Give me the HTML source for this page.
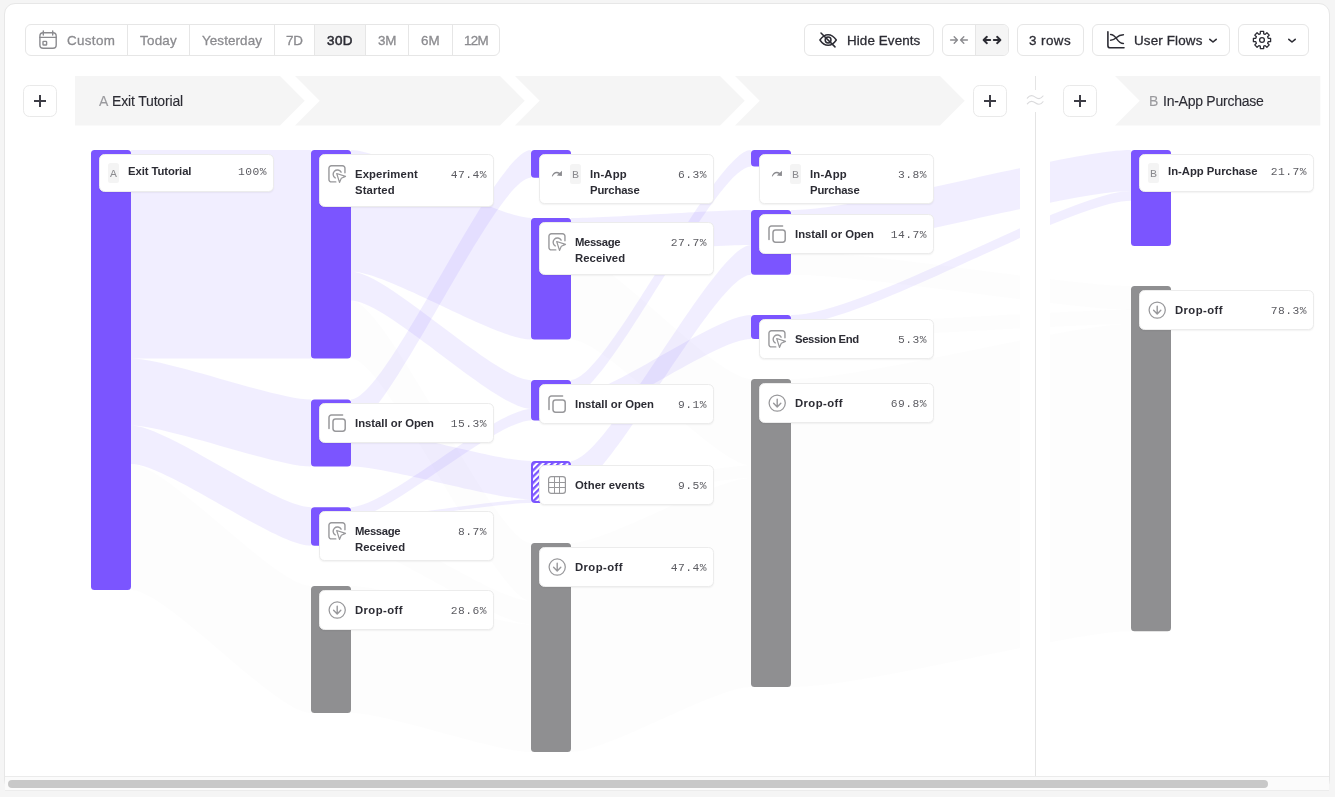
<!DOCTYPE html>
<html lang="en"><head><meta charset="utf-8"><title>User Flows</title>
<style>
html,body{margin:0;padding:0}
body{width:1335px;height:797px;background:#f5f5f5;position:relative;overflow:hidden;font-family:"Liberation Sans", sans-serif;-webkit-font-smoothing:antialiased}
.abs{position:absolute}
.t{position:absolute;white-space:nowrap;line-height:1;will-change:transform;-webkit-text-stroke:0.3px currentColor}
.btn{position:absolute;box-sizing:border-box;border:1px solid #e6e6e6;border-radius:6px;background:#fff}
.card{position:absolute;box-sizing:border-box;border:1px solid #ececec;border-radius:5.5px;background:#fff;box-shadow:0 1px 1.5px rgba(0,0,0,0.05)}
.lb{position:absolute;will-change:transform;white-space:nowrap;font-weight:700;font-size:11.3px;line-height:16.3px;color:#2c2c34}
.pc{position:absolute;will-change:transform;white-space:nowrap;font-family:"Liberation Mono", monospace;font-size:11.3px;letter-spacing:0.45px;line-height:1;color:#5c5c62;text-align:right}
.bl{position:absolute;will-change:transform;font-family:"Liberation Mono", monospace;font-size:11.5px;line-height:1;color:#8b8b8f}
</style></head>
<body>
<div class="abs" style="left:4px;top:3px;width:1326px;height:788px;box-sizing:border-box;border:1px solid #e7e7e7;border-radius:11px;background:#fff"></div>
<div class="btn" style="left:25px;top:24px;width:475px;height:32px"></div>
<div class="abs" style="left:315px;top:25px;width:50.5px;height:30px;background:#f5f5f5"></div>
<div class="abs" style="left:127.0px;top:25px;width:1px;height:30px;background:#e6e6e6"></div>
<div class="abs" style="left:189.0px;top:25px;width:1px;height:30px;background:#e6e6e6"></div>
<div class="abs" style="left:274.0px;top:25px;width:1px;height:30px;background:#e6e6e6"></div>
<div class="abs" style="left:314.0px;top:25px;width:1px;height:30px;background:#e6e6e6"></div>
<div class="abs" style="left:365.0px;top:25px;width:1px;height:30px;background:#e6e6e6"></div>
<div class="abs" style="left:408.0px;top:25px;width:1px;height:30px;background:#e6e6e6"></div>
<div class="abs" style="left:452.0px;top:25px;width:1px;height:30px;background:#e6e6e6"></div>
<div class="btn" style="left:804px;top:24px;width:129.6px;height:32px"></div>
<div class="btn" style="left:942px;top:24px;width:67px;height:32px;overflow:hidden"><div class="abs" style="left:32.5px;top:0;width:33px;height:30px;background:#f5f5f5"></div><div class="abs" style="left:32px;top:0;width:1px;height:30px;background:#e6e6e6"></div></div>
<div class="btn" style="left:1017.2px;top:24px;width:66.5px;height:32px"></div>
<div class="btn" style="left:1092.3px;top:24px;width:137.6px;height:32px"></div>
<div class="btn" style="left:1238.3px;top:24px;width:70.4px;height:32px"></div>
<svg class="abs" style="left:0;top:0" width="1335" height="140" viewBox="0 0 1335 140">
<g fill="none" stroke="#8b8b8f" stroke-width="1.4" stroke-linecap="round"><rect x="39.9" y="32.7" width="16.3" height="15.6" rx="3.2"/><path d="M39.9,37.4 H56.2 M43.3,31 V35 M52.7,31 V35"/><rect x="43" y="41.4" width="3.6" height="3.6" rx="0.6"/></g>
<g fill="none" stroke="#2c2c34" stroke-width="1.5" stroke-linecap="round" stroke-linejoin="round"><path d="M819.9,40 C822.5,36.2 825.3,34.7 828.1,34.7 C830.9,34.7 833.7,36.2 836.3,40 C833.7,43.8 830.9,45.3 828.1,45.3 C825.3,45.3 822.5,43.8 819.9,40 Z"/><circle cx="828.1" cy="40" r="2.9"/><path d="M821,33 L835,46.9"/></g>
<g fill="none" stroke="#8b8b8f" stroke-width="1.4" stroke-linecap="round" stroke-linejoin="round"><path d="M950.6,40 H957 M954.2,36.8 L957.4,40 L954.2,43.2"/><path d="M967.4,40 H961 M963.8,36.8 L960.6,40 L963.8,43.2"/></g>
<g fill="none" stroke="#2c2c34" stroke-width="1.9" stroke-linecap="round" stroke-linejoin="round"><path d="M990.2,40 H984 M986.9,36.8 L983.6,40 L986.9,43.2"/><path d="M993.8,40 H1000 M997.1,36.8 L1000.4,40 L997.1,43.2"/></g>
<g fill="none" stroke="#2c2c34" stroke-width="1.6" stroke-linecap="round" stroke-linejoin="round"><path d="M1107.9,31.8 V45.4 A2.4,2.4 0 0 0 1110.3,47.8 H1124"/><path d="M1110.6,34.5 C1117,34.5 1116.5,43.6 1123.4,43.6" stroke-width="1.5"/><path d="M1110.6,40.3 C1116.5,40.3 1116,34.8 1123.4,34.8" stroke-width="1.5"/></g>
<path d="M1209.8,39.3 L1213,42 L1216.2,39.3" fill="none" stroke="#2c2c34" stroke-width="1.6" stroke-linecap="round" stroke-linejoin="round"/>
<path d="M1260.28,33.78 L1260.35,31.41 L1263.65,31.41 L1263.72,33.78 L1265.18,34.39 L1266.91,32.76 L1269.24,35.09 L1267.61,36.82 L1268.22,38.28 L1270.59,38.35 L1270.59,41.65 L1268.22,41.72 L1267.61,43.18 L1269.24,44.91 L1266.91,47.24 L1265.18,45.61 L1263.72,46.22 L1263.65,48.59 L1260.35,48.59 L1260.28,46.22 L1258.82,45.61 L1257.09,47.24 L1254.76,44.91 L1256.39,43.18 L1255.78,41.72 L1253.41,41.65 L1253.41,38.35 L1255.78,38.28 L1256.39,36.82 L1254.76,35.09 L1257.09,32.76 L1258.82,34.39 Z" fill="none" stroke="#2c2c34" stroke-width="1.3" stroke-linejoin="round"/><circle cx="1262.0" cy="40.0" r="2.4" fill="none" stroke="#2c2c34" stroke-width="1.3"/>
<path d="M1288.8,39.3 L1292,42 L1295.2,39.3" fill="none" stroke="#2c2c34" stroke-width="1.6" stroke-linecap="round" stroke-linejoin="round"/>
<polygon points="75,76 280,76 304.7,100.7 280,125.4 75,125.4" fill="#f5f5f5"/>
<polygon points="295,76 500,76 524.7,100.7 500,125.4 295,125.4 319.7,100.7" fill="#f5f5f5"/>
<polygon points="515,76 720,76 744.7,100.7 720,125.4 515,125.4 539.7,100.7" fill="#f5f5f5"/>
<polygon points="735,76 940,76 964.7,100.7 940,125.4 735,125.4 759.7,100.7" fill="#f5f5f5"/>
<polygon points="1115,76 1320.3,76 1320.3,125.4 1115,125.4 1139.7,100.7" fill="#f5f5f5"/>
<g fill="none" stroke="#dadadc" stroke-width="1.1" stroke-linecap="round"><path d="M1027.3,98.2 C1030,94.6 1032.6,95.2 1035.2,97.1 C1037.8,99 1040.4,99.6 1043,96"/><path d="M1027.3,103.9 C1030,100.3 1032.6,100.9 1035.2,102.8 C1037.8,104.7 1040.4,105.3 1043,101.7"/></g>
</svg>
<div class="btn" style="left:23px;top:85px;width:34px;height:32px;border-radius:6.5px;border-color:#e9e9e9"><div class="abs" style="left:10.2px;top:14.2px;width:11.6px;height:1.6px;background:#3d3d45"></div><div class="abs" style="left:15.2px;top:9.2px;width:1.6px;height:11.6px;background:#3d3d45"></div></div>
<div class="btn" style="left:973px;top:85px;width:34px;height:32px;border-radius:6.5px;border-color:#e9e9e9"><div class="abs" style="left:10.2px;top:14.2px;width:11.6px;height:1.6px;background:#3d3d45"></div><div class="abs" style="left:15.2px;top:9.2px;width:1.6px;height:11.6px;background:#3d3d45"></div></div>
<div class="btn" style="left:1063px;top:85px;width:34px;height:32px;border-radius:6.5px;border-color:#e9e9e9"><div class="abs" style="left:10.2px;top:14.2px;width:11.6px;height:1.6px;background:#3d3d45"></div><div class="abs" style="left:15.2px;top:9.2px;width:1.6px;height:11.6px;background:#3d3d45"></div></div>
<div class="abs" style="left:1034.8px;top:76px;width:1px;height:14px;background:#e4e4e4"></div>
<div class="abs" style="left:1034.8px;top:112px;width:1px;height:664px;background:#e4e4e4"></div>
<svg class="abs" style="left:0;top:140px" width="1335" height="636" viewBox="0 140 1335 636">
<defs><pattern id="hatch" width="4.4" height="4.4" patternUnits="userSpaceOnUse" patternTransform="rotate(-45)"><rect x="0" y="0" width="4.4" height="2.3" fill="#7b55ff"/></pattern><clipPath id="fc"><rect x="0" y="140" width="1020" height="640"/><rect x="1050" y="140" width="285" height="640"/></clipPath></defs>
<g clip-path="url(#fc)">
<path d="M131,150 C167.0,150 275.0,150 311,150 L311,358.4 C275.0,358.4 167.0,358.4 131,358.4 Z" fill="#7856ff" fill-opacity="0.1"/>
<path d="M131,358.4 C167.0,358.4 275.0,399.4 311,399.4 L311,466.4 C275.0,466.4 167.0,425.4 131,425.4 Z" fill="#7856ff" fill-opacity="0.1"/>
<path d="M131,425.4 C167.0,425.4 275.0,507.2 311,507.2 L311,545.7 C275.0,545.7 167.0,463.9 131,463.9 Z" fill="#7856ff" fill-opacity="0.1"/>
<path d="M131,463.9 C167.0,463.9 275.0,586 311,586 L311,713 C275.0,713 167.0,590 131,590 Z" fill="#6e6e73" fill-opacity="0.014"/>
<path d="M351,150 C387.0,150 495.0,218 531,218 L531,339.6 C495.0,339.6 387.0,271.6 351,271.6 Z" fill="#7856ff" fill-opacity="0.1"/>
<path d="M351,271.6 C387.0,271.6 495.0,380 531,380 L531,408.9 C495.0,408.9 387.0,300.5 351,300.5 Z" fill="#7856ff" fill-opacity="0.1"/>
<path d="M351,300.5 C387.0,300.5 495.0,543 531,543 L531,601 C495.0,601 387.0,358.4 351,358.4 Z" fill="#6e6e73" fill-opacity="0.014"/>
<path d="M351,399.4 C387.0,399.4 495.0,150 531,150 L531,177.8 C495.0,177.8 387.0,427.2 351,427.2 Z" fill="#7856ff" fill-opacity="0.1"/>
<path d="M351,427.2 C387.0,427.2 495.0,461 531,461 L531,499.5 C495.0,499.5 387.0,466.4 351,466.4 Z" fill="#7856ff" fill-opacity="0.1"/>
<path d="M351,507.2 C387.0,507.2 495.0,408.9 531,408.9 L531,420.4 C495.0,420.4 387.0,518.7 351,518.7 Z" fill="#7856ff" fill-opacity="0.1"/>
<path d="M351,518.7 C387.0,518.7 495.0,499.5 531,499.5 L531,503 C495.0,503 387.0,522.2 351,522.2 Z" fill="#7856ff" fill-opacity="0.1"/>
<path d="M351,522.2 C387.0,522.2 495.0,601 531,601 L531,624.5 C495.0,624.5 387.0,545.7 351,545.7 Z" fill="#6e6e73" fill-opacity="0.014"/>
<path d="M351,586 C387.0,586 495.0,624.5 531,624.5 L531,752 C495.0,752 387.0,713 351,713 Z" fill="#6e6e73" fill-opacity="0.014"/>
<path d="M571,218 C607.0,218 715.0,210 751,210 L751,245 C715.0,245 607.0,253 571,253 Z" fill="#7856ff" fill-opacity="0.1"/>
<path d="M571,253 C607.0,253 715.0,379 751,379 L751,465.6 C715.0,465.6 607.0,339.6 571,339.6 Z" fill="#6e6e73" fill-opacity="0.014"/>
<path d="M571,380 C607.0,380 715.0,150 751,150 L751,166.6 C715.0,166.6 607.0,396.6 571,396.6 Z" fill="#7856ff" fill-opacity="0.1"/>
<path d="M571,396.6 C607.0,396.6 715.0,315 751,315 L751,339 C715.0,339 607.0,420.4 571,420.4 Z" fill="#7856ff" fill-opacity="0.1"/>
<path d="M571,461 C607.0,461 715.0,245 751,245 L751,274.7 C715.0,274.7 607.0,490.7 571,490.7 Z" fill="#7856ff" fill-opacity="0.1"/>
<path d="M571,490.7 C607.0,490.7 715.0,465.6 751,465.6 L751,478 C715.0,478 607.0,503 571,503 Z" fill="#6e6e73" fill-opacity="0.014"/>
<path d="M571,543 C607.0,543 715.0,478 751,478 L751,687 C715.0,687 607.0,752 571,752 Z" fill="#6e6e73" fill-opacity="0.014"/>
<path d="M791,210 C865.0,210 1069.0,150 1131,150 L1131,191 C1069.0,191 865.0,251 791,251 Z" fill="#7856ff" fill-opacity="0.1"/>
<path d="M791,315 C865.0,315 1069.0,191 1131,191 L1131,200.7 C1069.0,200.7 865.0,324.7 791,324.7 Z" fill="#7856ff" fill-opacity="0.1"/>
<path d="M791,251 C865.0,251 1069.0,286 1131,286 L1131,309.7 C1069.0,309.7 865.0,274.7 791,274.7 Z" fill="#6e6e73" fill-opacity="0.014"/>
<path d="M791,324.7 C865.0,324.7 1069.0,309.7 1131,309.7 L1131,324 C1069.0,324 865.0,339 791,339 Z" fill="#6e6e73" fill-opacity="0.014"/>
<path d="M791,379 C865.0,379 1069.0,324 1131,324 L1131,631.2 C1069.0,631.2 865.0,687 791,687 Z" fill="#6e6e73" fill-opacity="0.014"/>
</g>
<rect x="91" y="150" width="40" height="440" rx="3.5" fill="#7b55ff"/>
<rect x="311" y="150" width="40" height="208.39999999999998" rx="3.5" fill="#7b55ff"/>
<rect x="311" y="399.4" width="40" height="67.0" rx="3.5" fill="#7b55ff"/>
<rect x="311" y="507.2" width="40" height="38.50000000000006" rx="3.5" fill="#7b55ff"/>
<rect x="311" y="586" width="40" height="127" rx="3.5" fill="#8f8f91"/>
<rect x="531" y="150" width="40" height="27.80000000000001" rx="3.5" fill="#7b55ff"/>
<rect x="531" y="218" width="40" height="121.60000000000002" rx="3.5" fill="#7b55ff"/>
<rect x="531" y="380" width="40" height="40.39999999999998" rx="3.5" fill="#7b55ff"/>
<rect x="531" y="461" width="40" height="42" rx="4" fill="#fff"/><rect x="532" y="462" width="38" height="40" rx="3" fill="url(#hatch)" stroke="#7b55ff" stroke-width="2"/>
<rect x="531" y="543" width="40" height="209" rx="3.5" fill="#8f8f91"/>
<rect x="751" y="150" width="40" height="16.599999999999994" rx="3.5" fill="#7b55ff"/>
<rect x="751" y="210" width="40" height="64.69999999999999" rx="3.5" fill="#7b55ff"/>
<rect x="751" y="315" width="40" height="24" rx="3.5" fill="#7b55ff"/>
<rect x="751" y="379" width="40" height="308" rx="3.5" fill="#8f8f91"/>
<rect x="1131" y="150" width="40" height="96" rx="3.5" fill="#7b55ff"/>
<rect x="1131" y="286" width="40" height="345.20000000000005" rx="3.5" fill="#8f8f91"/>
</svg>
<div class="card" style="left:99px;top:154px;width:175px;height:38px"></div>
<div class="lb" style="left:127.8px;top:163.1px;letter-spacing:-0.081px">Exit Tutorial</div>
<div class="pc" style="left:206.8px;width:60px;top:167.4px">100%</div>
<div style="position:absolute;left:108px;top:163.2px;width:11px;height:19.5px;background:#f4f4f4;border-radius:2.5px"></div><div class="bl" style="left:110.1px;top:167.8px">A</div>
<div class="card" style="left:319px;top:154px;width:175px;height:53px"></div>
<div class="lb" style="left:354.8px;top:166.3px;letter-spacing:0.127px">Experiment</div>
<div class="lb" style="left:354.8px;top:182.3px;letter-spacing:0.125px">Started</div>
<div class="pc" style="left:426.8px;width:60px;top:169.6px">47.4%</div>
<div class="card" style="left:319px;top:403px;width:175px;height:40px"></div>
<div class="lb" style="left:354.8px;top:414.9px;letter-spacing:-0.006px">Install or Open</div>
<div class="pc" style="left:426.8px;width:60px;top:419.2px">15.3%</div>
<div class="card" style="left:319px;top:511px;width:175px;height:50px"></div>
<div class="lb" style="left:354.8px;top:523.3px;letter-spacing:-0.376px">Message</div>
<div class="lb" style="left:354.8px;top:539.3px;letter-spacing:0.072px">Received</div>
<div class="pc" style="left:426.8px;width:60px;top:526.6px">8.7%</div>
<div class="card" style="left:319px;top:590px;width:175px;height:40px"></div>
<div class="lb" style="left:354.8px;top:601.9px;letter-spacing:0.407px">Drop-off</div>
<div class="pc" style="left:426.8px;width:60px;top:606.2px">28.6%</div>
<div class="card" style="left:539px;top:154px;width:175px;height:50px"></div>
<div class="lb" style="left:589.8px;top:166.3px;letter-spacing:0.189px">In-App</div>
<div class="lb" style="left:589.8px;top:182.3px;letter-spacing:-0.159px">Purchase</div>
<div class="pc" style="left:646.8px;width:60px;top:169.6px">6.3%</div>
<div style="position:absolute;left:570px;top:164.0px;width:11px;height:19.5px;background:#f4f4f4;border-radius:2.5px"></div><div class="bl" style="left:572.4px;top:168.8px">B</div>
<div class="card" style="left:539px;top:222px;width:175px;height:53px"></div>
<div class="lb" style="left:574.8px;top:234.3px;letter-spacing:-0.376px">Message</div>
<div class="lb" style="left:574.8px;top:250.3px;letter-spacing:0.072px">Received</div>
<div class="pc" style="left:646.8px;width:60px;top:237.6px">27.7%</div>
<div class="card" style="left:539px;top:384px;width:175px;height:40px"></div>
<div class="lb" style="left:574.8px;top:395.9px;letter-spacing:-0.006px">Install or Open</div>
<div class="pc" style="left:646.8px;width:60px;top:400.2px">9.1%</div>
<div class="card" style="left:539px;top:465px;width:175px;height:40px"></div>
<div class="lb" style="left:574.8px;top:476.9px;letter-spacing:0.061px">Other events</div>
<div class="pc" style="left:646.8px;width:60px;top:481.2px">9.5%</div>
<div class="card" style="left:539px;top:547px;width:175px;height:40px"></div>
<div class="lb" style="left:574.8px;top:558.9px;letter-spacing:0.407px">Drop-off</div>
<div class="pc" style="left:646.8px;width:60px;top:563.2px">47.4%</div>
<div class="card" style="left:759px;top:154px;width:175px;height:50px"></div>
<div class="lb" style="left:809.8px;top:166.3px;letter-spacing:0.189px">In-App</div>
<div class="lb" style="left:809.8px;top:182.3px;letter-spacing:-0.159px">Purchase</div>
<div class="pc" style="left:866.8px;width:60px;top:169.6px">3.8%</div>
<div style="position:absolute;left:790px;top:164.0px;width:11px;height:19.5px;background:#f4f4f4;border-radius:2.5px"></div><div class="bl" style="left:792.4px;top:168.8px">B</div>
<div class="card" style="left:759px;top:214px;width:175px;height:40px"></div>
<div class="lb" style="left:794.8px;top:225.9px;letter-spacing:-0.006px">Install or Open</div>
<div class="pc" style="left:866.8px;width:60px;top:230.2px">14.7%</div>
<div class="card" style="left:759px;top:319px;width:175px;height:40px"></div>
<div class="lb" style="left:794.8px;top:330.9px;letter-spacing:-0.365px">Session End</div>
<div class="pc" style="left:866.8px;width:60px;top:335.2px">5.3%</div>
<div class="card" style="left:759px;top:383px;width:175px;height:40px"></div>
<div class="lb" style="left:794.8px;top:394.9px;letter-spacing:0.407px">Drop-off</div>
<div class="pc" style="left:866.8px;width:60px;top:399.2px">69.8%</div>
<div class="card" style="left:1139px;top:154px;width:175px;height:38px"></div>
<div class="lb" style="left:1167.8px;top:163.1px;letter-spacing:-0.011px">In-App Purchase</div>
<div class="pc" style="left:1246.8px;width:60px;top:167.4px">21.7%</div>
<div style="position:absolute;left:1148px;top:163.2px;width:11px;height:19.5px;background:#f4f4f4;border-radius:2.5px"></div><div class="bl" style="left:1150.1px;top:167.8px">B</div>
<div class="card" style="left:1139px;top:290px;width:175px;height:40px"></div>
<div class="lb" style="left:1174.8px;top:301.9px;letter-spacing:0.407px">Drop-off</div>
<div class="pc" style="left:1246.8px;width:60px;top:306.2px">78.3%</div>
<svg class="abs" style="left:0;top:0;pointer-events:none" width="1335" height="797" viewBox="0 0 1335 797">
<g transform="translate(328.2,165.0)" fill="none" stroke="#98989b" stroke-width="1.4" stroke-linecap="round" stroke-linejoin="round"><path d="M7.6,16.9 H3.2 A2.45,2.45 0 0 1 0.75,14.45 V3.2 A2.45,2.45 0 0 1 3.2,0.75 H14.3 A2.45,2.45 0 0 1 16.75,3.2 V7.8"/><path d="M12.9,7.2 A4.25,4.25 0 1 0 7.0,12.9"/><path d="M8.5,8.5 L17.3,11.4 L13.1,13.3 L11.3,17.4 Z" stroke-width="1.2"/></g>
<g transform="translate(328,414.0)" fill="none" stroke="#98989b" stroke-width="1.5" stroke-linecap="round" stroke-linejoin="round"><path d="M1,14.4 V3.4 A2.4,2.4 0 0 1 3.4,1 H14.6"/><rect x="5" y="5" width="12.2" height="12.2" rx="2.6"/></g>
<g transform="translate(328.2,522.0)" fill="none" stroke="#98989b" stroke-width="1.4" stroke-linecap="round" stroke-linejoin="round"><path d="M7.6,16.9 H3.2 A2.45,2.45 0 0 1 0.75,14.45 V3.2 A2.45,2.45 0 0 1 3.2,0.75 H14.3 A2.45,2.45 0 0 1 16.75,3.2 V7.8"/><path d="M12.9,7.2 A4.25,4.25 0 1 0 7.0,12.9"/><path d="M8.5,8.5 L17.3,11.4 L13.1,13.3 L11.3,17.4 Z" stroke-width="1.2"/></g>
<g transform="translate(328.2,601.1)" fill="none" stroke="#98989b" stroke-width="1.25" stroke-linecap="round" stroke-linejoin="round"><circle cx="9" cy="9" r="8.1"/><path d="M9,5.2 V12.4 M5.4,9.2 L9,12.8 L12.6,9.2" stroke-width="1.4"/></g>
<g transform="translate(551.8,170.60000000000002)" fill="#8b8b8f" stroke="none"><path d="M0,5.6 C0.9,2.6 3.9,-0.2 8.0,2.1 L10.2,0.1 L10.1,5.4 L5.0,4.9 L6.9,3.2 C4.3,1.8 2.0,3.4 0.8,6.0 Z"/></g>
<g transform="translate(548.2,233.0)" fill="none" stroke="#98989b" stroke-width="1.4" stroke-linecap="round" stroke-linejoin="round"><path d="M7.6,16.9 H3.2 A2.45,2.45 0 0 1 0.75,14.45 V3.2 A2.45,2.45 0 0 1 3.2,0.75 H14.3 A2.45,2.45 0 0 1 16.75,3.2 V7.8"/><path d="M12.9,7.2 A4.25,4.25 0 1 0 7.0,12.9"/><path d="M8.5,8.5 L17.3,11.4 L13.1,13.3 L11.3,17.4 Z" stroke-width="1.2"/></g>
<g transform="translate(548,395.0)" fill="none" stroke="#98989b" stroke-width="1.5" stroke-linecap="round" stroke-linejoin="round"><path d="M1,14.4 V3.4 A2.4,2.4 0 0 1 3.4,1 H14.6"/><rect x="5" y="5" width="12.2" height="12.2" rx="2.6"/></g>
<g transform="translate(548,476)" fill="none" stroke="#98989b" stroke-width="1.2"><rect x="0.6" y="0.6" width="16.8" height="16.8" rx="2.6"/><path d="M6.5,0.6 V17.4 M11.5,0.6 V17.4 M0.6,6.5 H17.4 M0.6,11.5 H17.4" stroke-width="1"/></g>
<g transform="translate(548.2,558.1)" fill="none" stroke="#98989b" stroke-width="1.25" stroke-linecap="round" stroke-linejoin="round"><circle cx="9" cy="9" r="8.1"/><path d="M9,5.2 V12.4 M5.4,9.2 L9,12.8 L12.6,9.2" stroke-width="1.4"/></g>
<g transform="translate(771.8,170.60000000000002)" fill="#8b8b8f" stroke="none"><path d="M0,5.6 C0.9,2.6 3.9,-0.2 8.0,2.1 L10.2,0.1 L10.1,5.4 L5.0,4.9 L6.9,3.2 C4.3,1.8 2.0,3.4 0.8,6.0 Z"/></g>
<g transform="translate(768,225.0)" fill="none" stroke="#98989b" stroke-width="1.5" stroke-linecap="round" stroke-linejoin="round"><path d="M1,14.4 V3.4 A2.4,2.4 0 0 1 3.4,1 H14.6"/><rect x="5" y="5" width="12.2" height="12.2" rx="2.6"/></g>
<g transform="translate(768.2,330.0)" fill="none" stroke="#98989b" stroke-width="1.4" stroke-linecap="round" stroke-linejoin="round"><path d="M7.6,16.9 H3.2 A2.45,2.45 0 0 1 0.75,14.45 V3.2 A2.45,2.45 0 0 1 3.2,0.75 H14.3 A2.45,2.45 0 0 1 16.75,3.2 V7.8"/><path d="M12.9,7.2 A4.25,4.25 0 1 0 7.0,12.9"/><path d="M8.5,8.5 L17.3,11.4 L13.1,13.3 L11.3,17.4 Z" stroke-width="1.2"/></g>
<g transform="translate(768.2,394.1)" fill="none" stroke="#98989b" stroke-width="1.25" stroke-linecap="round" stroke-linejoin="round"><circle cx="9" cy="9" r="8.1"/><path d="M9,5.2 V12.4 M5.4,9.2 L9,12.8 L12.6,9.2" stroke-width="1.4"/></g>
<g transform="translate(1148.2,301.1)" fill="none" stroke="#98989b" stroke-width="1.25" stroke-linecap="round" stroke-linejoin="round"><circle cx="9" cy="9" r="8.1"/><path d="M9,5.2 V12.4 M5.4,9.2 L9,12.8 L12.6,9.2" stroke-width="1.4"/></g>
</svg>
<div class="t" style="left:67.0px;top:33.86px;font-size:13.4px;font-weight:400;color:#8b8b8f;letter-spacing:0.343px">Custom</div>
<div class="t" style="left:140.0px;top:33.86px;font-size:13.4px;font-weight:400;color:#8b8b8f;letter-spacing:0.253px">Today</div>
<div class="t" style="left:201.8px;top:33.86px;font-size:13.4px;font-weight:400;color:#8b8b8f;letter-spacing:0.104px">Yesterday</div>
<div class="t" style="left:286.0px;top:33.86px;font-size:13.4px;font-weight:400;color:#8b8b8f;letter-spacing:-0.263px">7D</div>
<div class="t" style="left:327.0px;top:33.86px;font-size:13.4px;font-weight:400;color:#2c2c34;letter-spacing:0.441px;-webkit-text-stroke:0.55px currentColor">30D</div>
<div class="t" style="left:377.6px;top:33.86px;font-size:13.4px;font-weight:400;color:#8b8b8f;letter-spacing:-0.205px">3M</div>
<div class="t" style="left:420.8px;top:33.86px;font-size:13.4px;font-weight:400;color:#8b8b8f;letter-spacing:0.095px">6M</div>
<div class="t" style="left:464.2px;top:33.86px;font-size:13.4px;font-weight:400;color:#8b8b8f;letter-spacing:-0.721px">12M</div>
<div class="t" style="left:847.2px;top:33.86px;font-size:13.4px;font-weight:400;color:#2c2c34;letter-spacing:0.109px">Hide Events</div>
<div class="t" style="left:1028.9px;top:33.86px;font-size:13.4px;font-weight:400;color:#2c2c34;letter-spacing:0.441px">3 rows</div>
<div class="t" style="left:1133.9px;top:33.86px;font-size:13.4px;font-weight:400;color:#2c2c34;letter-spacing:0.153px">User Flows</div>
<div class="t" style="left:98.5px;top:94.05px;font-size:14px;font-weight:400;color:#9a9a9e;letter-spacing:0.356px;-webkit-text-stroke:0.12px currentColor">A</div>
<div class="t" style="left:112.0px;top:94.05px;font-size:14px;font-weight:400;color:#2c2c34;letter-spacing:-0.165px;-webkit-text-stroke:0.12px currentColor">Exit Tutorial</div>
<div class="t" style="left:1149.2px;top:94.05px;font-size:14px;font-weight:400;color:#9a9a9e;letter-spacing:0.056px;-webkit-text-stroke:0.12px currentColor">B</div>
<div class="t" style="left:1163.0px;top:94.05px;font-size:14px;font-weight:400;color:#2c2c34;letter-spacing:-0.253px;-webkit-text-stroke:0.12px currentColor">In-App Purchase</div>
<div class="abs" style="left:5px;top:776px;width:1324px;height:1px;background:#ebebeb"></div>
<div class="abs" style="left:5px;top:777px;width:1324px;height:13px;background:#fbfbfb"></div>
<div class="abs" style="left:5px;top:790px;width:1324px;height:1px;background:#ececec"></div>
<div class="abs" style="left:8px;top:780px;width:1260px;height:7.5px;background:#c8c8c8;border-radius:4px"></div>
</body></html>
